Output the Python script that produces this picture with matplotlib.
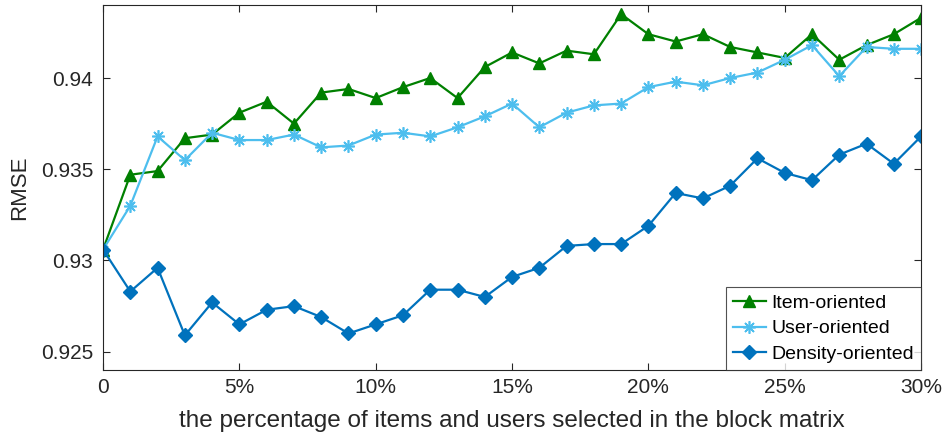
import numpy as np
import matplotlib
matplotlib.use("Agg")
import matplotlib.pyplot as plt

# ---------------- data ----------------
pct = list(range(0, 31))

item_rmse = [0.9306, 0.9347, 0.9349, 0.9367, 0.9369, 0.9381, 0.9387, 0.9375, 0.9392, 0.9394,
             0.9389, 0.9395, 0.9400, 0.9389, 0.9406, 0.9414, 0.9408, 0.9415, 0.9413, 0.9435,
             0.9424, 0.9420, 0.9424, 0.9417, 0.9414, 0.9411, 0.9424, 0.9410, 0.9418, 0.9424,
             0.9433]

user_rmse = [0.9306, 0.9330, 0.9368, 0.9355, 0.9370, 0.9366, 0.9366, 0.9369, 0.9362, 0.9363,
             0.9369, 0.9370, 0.9368, 0.9373, 0.9379, 0.9386, 0.9373, 0.9381, 0.9385, 0.9386,
             0.9395, 0.9398, 0.9396, 0.9400, 0.9403, 0.9410, 0.9418, 0.9401, 0.9417, 0.9416,
             0.9416]

density_rmse = [0.9306, 0.9283, 0.9296, 0.9259, 0.9277, 0.9265, 0.9273, 0.9275, 0.9269, 0.9260,
                0.9265, 0.9270, 0.9284, 0.9284, 0.9280, 0.9291, 0.9296, 0.9308, 0.9309, 0.9309,
                0.9319, 0.9337, 0.9334, 0.9341, 0.9356, 0.9348, 0.9344, 0.9358, 0.9364, 0.9353,
                0.9368]

xticks = [0, 5, 10, 15, 20, 25, 30]
xtick_labels = ["0", "5%", "10%", "15%", "20%", "25%", "30%"]
yticks = [0.925, 0.93, 0.935, 0.94]
ytick_labels = ["0.925", "0.93", "0.935", "0.94"]

# ---------------- plot ----------------
plt.rcParams["font.family"] = ["Liberation Sans", "DejaVu Sans"]
axis_col = "#262626"

fig = plt.figure(figsize=(9.48, 4.43), dpi=100)
ax = fig.add_axes([0.1087, 0.1648, 0.8629, 0.8239])

ax.plot(pct, item_rmse, color="#008000", lw=1.6, marker="^", ms=9,
        label="Item-oriented")
ax.plot(pct, user_rmse, color="#4DBEEE", lw=1.6, marker=(8, 2, 0), ms=9,
        mew=1.2, label="User-oriented")
ax.plot(pct, density_rmse, color="#0072BD", lw=1.6, marker="D", ms=7.5,
        label="Density-oriented")

ax.set_xlim(0, 30)
ax.set_ylim(0.924, 0.944)
ax.set_xticks(xticks)
ax.set_xticklabels(xtick_labels)
ax.set_yticks(yticks)
ax.set_yticklabels(ytick_labels)

ax.tick_params(direction="in", top=True, right=True, length=5, width=0.8,
               colors=axis_col, labelsize=15)
ax.tick_params(axis="x", pad=6)
ax.tick_params(axis="y", pad=7)
for sp in ax.spines.values():
    sp.set_color(axis_col)
    sp.set_linewidth(0.8)

ax.set_xlabel("the percentage of items and users selected in the block matrix",
              fontsize=17.5, color=axis_col, labelpad=9)
ax.set_ylabel("RMSE", fontsize=16, color=axis_col, labelpad=8)

leg = ax.legend(loc="lower right", fontsize=14, frameon=True, fancybox=False,
                borderaxespad=0, handlelength=1.7, handletextpad=0.3,
                borderpad=0.35, labelspacing=0.42)
leg.get_frame().set_edgecolor(axis_col)
leg.get_frame().set_linewidth(0.8)

fig.savefig("out.png", dpi=100)
